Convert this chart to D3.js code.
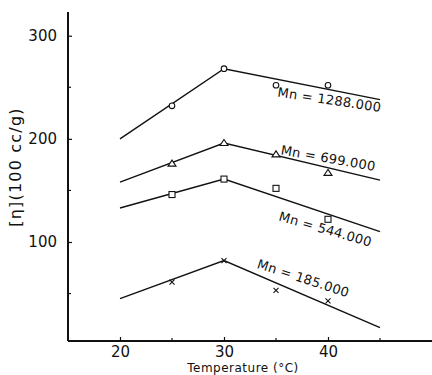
<!DOCTYPE html>
<html>
<head>
<meta charset="utf-8">
<script src="https://cdn.jsdelivr.net/npm/d3@7"></script>
<style>
  body { margin: 0; background: #fff; }
  svg { display: block; }
  text { font-family: "DejaVu Sans", sans-serif; fill: #111; }
</style>
</head>
<body>
<div id="chart"></div>
<script>
// fitted lines (temperature, [eta]) for each molecular weight
var seriesNames = ['Mn = 1288.000', 'Mn = 699.000', 'Mn = 544.000', 'Mn = 185.000']
var markerTypes = ['circle', 'triangle', 'square', 'cross']

var lineTemps = [20, 30, 45]
var lineEta1288 = [200, 268, 238]
var lineEta699 = [158, 196, 160]
var lineEta544 = [133, 161, 110]
var lineEta185 = [45, 82, 17]

// measured points
var pointTemps = [25, 30, 35, 40]
var pointEta1288 = [232, 268, 252, 252]
var pointEta699 = [176, 196, 185, 167]
var pointEta544 = [146, 161, 152, 122]
var pointEta185 = [61, 82, 53, 43]

var xTicks = [20, 30, 40]
var xMinorTicks = [25, 35, 45]
var yTicks = [100, 200, 300]
var yMinorTicks = [50, 150, 250]

var width = 432, height = 375

var svg = d3.select('#chart').append('svg')
  .attr('width', width)
  .attr('height', height)

var x = d3.scaleLinear().domain([15, 50]).range([68, 432])
var y = d3.scaleLinear().domain([4, 323]).range([341, 12])

// axes - inside ticks, no domain path (drawn as thick lines below)
var xAxis = d3.axisBottom(x).tickValues(xTicks).tickSize(-4).tickPadding(5).tickFormat(d3.format('d'))
var yAxis = d3.axisLeft(y).tickValues(yTicks).tickSize(-4).tickPadding(11).tickFormat(d3.format('d'))

var gx = svg.append('g').attr('transform', 'translate(0,' + y(4) + ')').call(xAxis)
var gy = svg.append('g').attr('transform', 'translate(' + x(15) + ',0)').call(yAxis)

gx.select('.domain').remove()
gy.select('.domain').remove()
gx.selectAll('text').style('font-size', '15px').style('font-family', 'DejaVu Sans')
gy.selectAll('text').style('font-size', '15px').style('font-family', 'DejaVu Sans')
gx.selectAll('line').attr('stroke', '#111').attr('stroke-width', 1.2)
gy.selectAll('line').attr('stroke', '#111').attr('stroke-width', 1.2)

svg.append('g').selectAll('line').data(xMinorTicks).enter().append('line')
  .attr('x1', d => x(d)).attr('x2', d => x(d))
  .attr('y1', y(4)).attr('y2', y(4) - 3)
  .attr('stroke', '#111').attr('stroke-width', 1.2)
svg.append('g').selectAll('line').data(yMinorTicks).enter().append('line')
  .attr('x1', x(15)).attr('x2', x(15) + 3)
  .attr('y1', d => y(d)).attr('y2', d => y(d))
  .attr('stroke', '#111').attr('stroke-width', 1.2)

// axis lines
svg.append('line')
  .attr('x1', x(15)).attr('x2', x(15))
  .attr('y1', y(323)).attr('y2', y(4))
  .attr('stroke', '#111').attr('stroke-width', 2)
svg.append('line')
  .attr('x1', x(15)).attr('x2', x(50))
  .attr('y1', y(4)).attr('y2', y(4))
  .attr('stroke', '#111').attr('stroke-width', 2)

// axis titles
svg.append('text')
  .attr('x', 243).attr('y', 372)
  .attr('text-anchor', 'middle')
  .style('font-size', '12px')
  .style('letter-spacing', '0.5px')
  .text('Temperature (°C)')

svg.append('text')
  .attr('transform', 'translate(21,167) rotate(-90)')
  .attr('text-anchor', 'middle')
  .style('font-size', '16px')
  .style('letter-spacing', '1.2px')
  .text('[η](100 cc/g)')

var lineData = [lineEta1288, lineEta699, lineEta544, lineEta185]
var pointData = [pointEta1288, pointEta699, pointEta544, pointEta185]

var line = d3.line().x(d => x(d[0])).y(d => y(d[1]))

lineData.forEach(function (vals) {
  svg.append('path')
    .attr('d', line(lineTemps.map((t, i) => [t, vals[i]])))
    .attr('fill', 'none')
    .attr('stroke', '#111')
    .attr('stroke-width', 1.4)
})

function drawMarker(g, type, cx, cy) {
  if (type === 'circle') {
    g.append('circle').attr('cx', cx).attr('cy', cy).attr('r', 2.8)
      .attr('fill', '#fff').attr('stroke', '#111').attr('stroke-width', 1.1)
  } else if (type === 'triangle') {
    g.append('path')
      .attr('d', 'M' + cx + ',' + (cy - 3.5) + 'L' + (cx + 4) + ',' + (cy + 2.5) + 'L' + (cx - 4) + ',' + (cy + 2.5) + 'Z')
      .attr('fill', '#fff').attr('stroke', '#111').attr('stroke-width', 1.1)
  } else if (type === 'square') {
    g.append('rect').attr('x', cx - 3).attr('y', cy - 3).attr('width', 6).attr('height', 6)
      .attr('fill', '#fff').attr('stroke', '#111').attr('stroke-width', 1.1)
  } else {
    g.append('path')
      .attr('d', 'M' + (cx - 2.5) + ',' + (cy - 2.5) + 'L' + (cx + 2.5) + ',' + (cy + 2.5) + 'M' + (cx + 2.5) + ',' + (cy - 2.5) + 'L' + (cx - 2.5) + ',' + (cy + 2.5))
      .attr('stroke', '#111').attr('stroke-width', 1.1)
  }
}

var markers = svg.append('g')
pointData.forEach(function (vals, s) {
  pointTemps.forEach(function (t, i) {
    drawMarker(markers, markerTypes[s], x(t), y(vals[i]))
  })
})

// rotated curve labels, placed by hand next to each line
var labelPos = [[35.1, 241, 8.5], [35.4, 185, 10], [35.2, 121, 16], [33.1, 75, 18]]
seriesNames.forEach(function (name, i) {
  var p = labelPos[i]
  svg.append('text')
    .attr('transform', 'translate(' + x(p[0]) + ',' + y(p[1]) + ') rotate(' + p[2] + ')')
    .style('font-size', '13px')
    .style('letter-spacing', '0.3px')
    .text(name)
})
</script>
</body>
</html>
